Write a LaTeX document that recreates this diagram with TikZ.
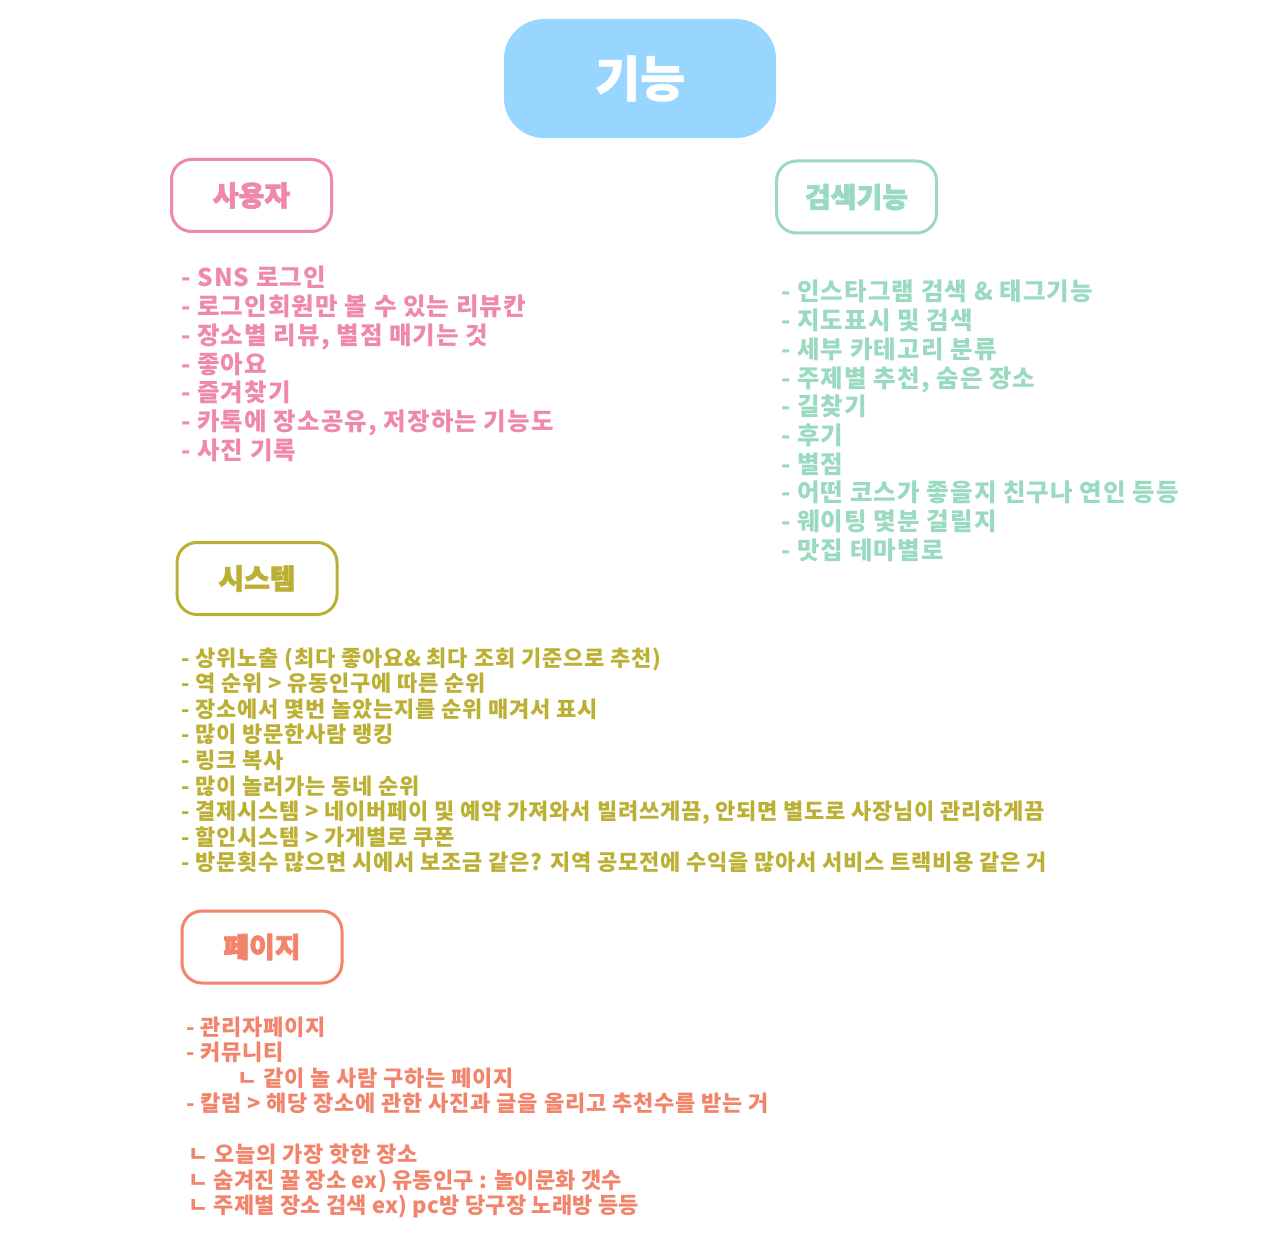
\documentclass[tikz,border=0pt]{standalone}
\usepackage{fontspec}
\setmainfont{Noto Sans CJK KR}
\newfontfamily\headfont[BoldFeatures={FakeBold=2.5}]{Noto Sans CJK KR}
\newfontfamily\titlefont[BoldFeatures={FakeBold=1}]{Noto Sans CJK KR}
\newfontfamily\biglist[LetterSpace=4.5]{Noto Sans CJK KR}
\newfontfamily\smalllist[LetterSpace=3.5]{Noto Sans CJK KR}
\newfontfamily\tightlist[LetterSpace=1.2]{Noto Sans CJK KR}
\definecolor{cblue}{HTML}{99D6FF}
\definecolor{cpink}{HTML}{F088AB}
\definecolor{cgreen}{HTML}{9ADAC0}
\definecolor{colive}{HTML}{BBB033}
\definecolor{csalmon}{HTML}{F3846C}
\tikzset{
  catbox/.style={draw=#1, line width=3pt, rounded corners=20pt, minimum width=160pt, minimum height=72pt, inner sep=0pt, text=#1, font=\headfont\bfseries\fontsize{28}{30}\selectfont},
  item/.style={anchor=base west, inner sep=0pt, text=#1, font=\biglist\bfseries\fontsize{24.5}{28}\selectfont},
  itemsm/.style={anchor=base west, inner sep=0pt, text=#1, font=\smalllist\bfseries\fontsize{22}{25}\selectfont},
  itemtight/.style={anchor=base west, inner sep=0pt, text=#1, font=\tightlist\bfseries\fontsize{22}{25}\selectfont},
}
\begin{document}
\begin{tikzpicture}[x=1pt,y=-1pt]
\useasboundingbox (0,0) rectangle (1280,1249);
\fill[white] (0,0) rectangle (1280,1249);
% title
\node[fill=cblue, rounded corners=40pt, minimum width=272pt, minimum height=119pt, inner sep=0pt, text=white, font=\titlefont\bfseries\fontsize{49}{52}\selectfont] (title) at (640,78.5) {기능};
% category boxes
\node[catbox=cpink] (user) at (251.5,195.5) {사용자};
\node[catbox=cgreen] (search) at (856.5,197) {검색기능};
\node[catbox=colive] (system) at (257,578.5) {시스템};
\node[catbox=csalmon] (page) at (262,947) {페이지};
% user list
\foreach \t [count=\i] in {{- SNS 로그인},{- 로그인회원만 볼 수 있는 리뷰칸},{- 장소별 리뷰, 별점 매기는 것},{- 좋아요},{- 즐겨찾기},{- 카톡에 장소공유, 저장하는 기능도},{- 사진 기록}}
  \node[item=cpink] (u\i) at (181,{278+28.7*(\i-1)+9}) {\t};
% search list
\foreach \t [count=\i] in {{- 인스타그램 검색 \& 태그기능},{- 지도표시 및 검색},{- 세부 카테고리 분류},{- 주제별 추천, 숨은 장소},{- 길찾기},{- 후기},{- 별점},{- 어떤 코스가 좋을지 친구나 연인 등등},{- 웨이팅 몇분 걸릴지},{- 맛집 테마별로}}
  \node[item=cgreen] (s\i) at (781,{292+28.7*(\i-1)+9}) {\t};
% system list
\foreach \t [count=\i] in {{- 상위노출 (최다 좋아요\& 최다 조회 기준으로 추천)},{- 역 순위 > 유동인구에 따른 순위},{- 장소에서 몇번 놀았는지를 순위 매겨서 표시},{- 많이 방문한사람 랭킹},{- 링크 복사},{- 많이 놀러가는 동네 순위},{- 결제시스템 > 네이버페이 및 예약 가져와서 빌려쓰게끔, 안되면 별도로 사장님이 관리하게끔},{- 할인시스템 > 가게별로 쿠폰},{- 방문횟수 많으면 시에서 보조금 같은? 지역 공모전에 수익을 많아서 서비스 트랙비용 같은 거}}
  \node[itemsm=colive] (y\i) at (181,{658+25.6*(\i-1)+8.1}) {\t};
% page list
\node[itemsm=csalmon] (p1) at (186,{1027+8.1}) {- 관리자페이지};
\node[itemsm=csalmon] (p2) at (186,{1052.5+8.1}) {- 커뮤니티};
\node[itemsm=csalmon] (p3) at (237,{1078+8.1}) {ㄴ 같이 놀 사람 구하는 페이지};
\node[itemsm=csalmon] (p4) at (186,{1103.5+8.1}) {- 칼럼 > 해당 장소에 관한 사진과 글을 올리고 추천수를 받는 거};
\node[itemsm=csalmon] (p5) at (188,{1154.5+8.1}) {ㄴ 오늘의 가장 핫한 장소};
\node[itemtight=csalmon] (p6) at (188,{1180+8.1}) {ㄴ 숨겨진 꿀 장소 ex) 유동인구 : 놀이문화 갯수};
\node[itemtight=csalmon] (p7) at (188,{1205.5+8.1}) {ㄴ 주제별 장소 검색 ex) pc방 당구장 노래방 등등};
\end{tikzpicture}
\end{document}
